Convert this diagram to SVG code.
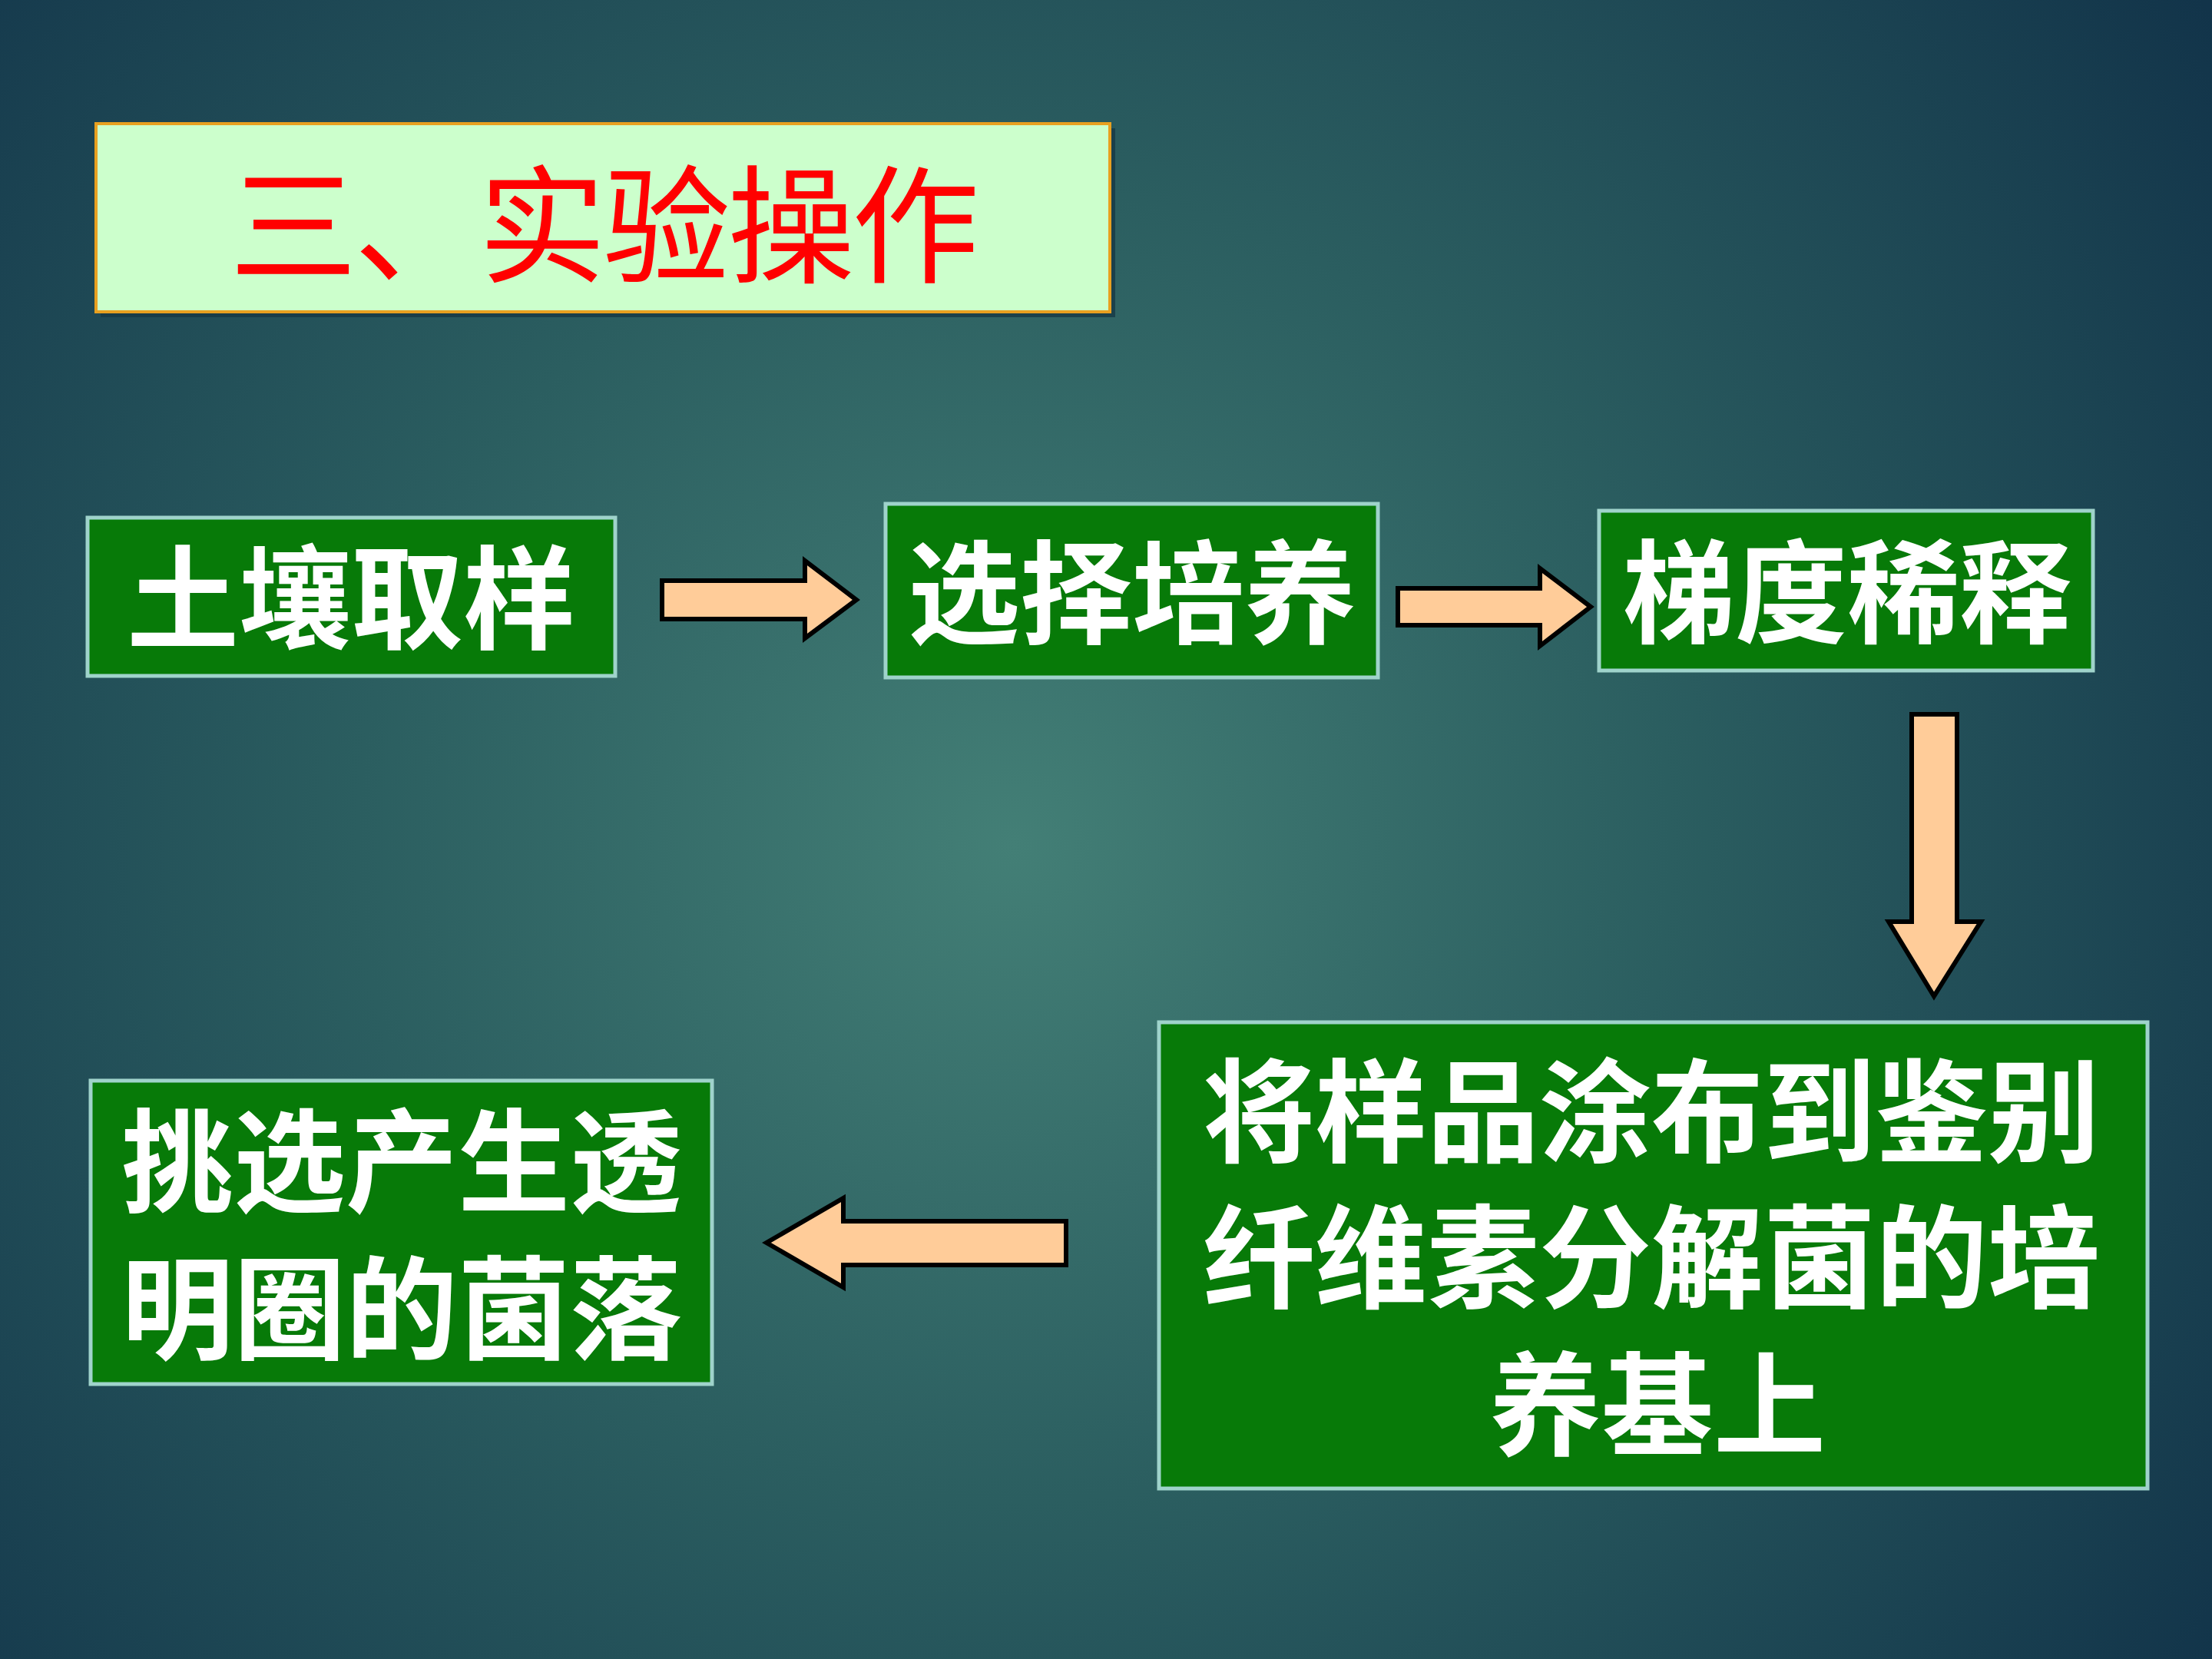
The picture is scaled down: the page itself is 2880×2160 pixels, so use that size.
<svg xmlns="http://www.w3.org/2000/svg" width="2880" height="2160" viewBox="0 0 2880 2160">
<defs>
<radialGradient id="bg" cx="1320" cy="1100" r="1900" gradientUnits="userSpaceOnUse">
<stop offset="0" stop-color="#437F76"/>
<stop offset="0.45" stop-color="#2B5E60"/>
<stop offset="1" stop-color="#12344A"/>
</radialGradient>
<style>
.node rect.box{fill:#077A08;stroke:#9FD3CB;stroke-width:5}
.node text{font-family:"Liberation Sans","Noto Sans CJK SC",sans-serif;font-weight:bold;font-size:146px;fill:#FFFFFF;text-anchor:middle;dominant-baseline:central}
.arrow{fill:#FFCC99;stroke:#000000;stroke-width:6;stroke-linejoin:miter}
</style>
</defs>
<rect width="2880" height="2160" fill="url(#bg)"/>
<g id="title">
<rect x="131" y="167" width="1321" height="246" fill="#163845" opacity="0.8"/>
<rect x="125" y="161" width="1320" height="245" fill="#CCFFCC" stroke="#E8A020" stroke-width="4"/>
<text x="785" y="297" font-family="Liberation Sans, Noto Sans CJK SC, sans-serif" font-size="166" fill="#FF0000" text-anchor="middle" dominant-baseline="central" letter-spacing="-4">三、实验操作</text>
</g>
<g id="n1" class="node">
<rect class="box" x="114" y="674" width="687" height="206"/>
<text x="457" y="782">土壤取样</text>
</g>
<g id="n2" class="node">
<rect class="box" x="1153" y="656" width="641" height="226"/>
<text x="1474" y="775">选择培养</text>
</g>
<g id="n3" class="node">
<rect class="box" x="2082" y="665" width="643" height="208"/>
<text x="2405" y="774">梯度稀释</text>
</g>
<g id="n4" class="node">
<rect class="box" x="1509" y="1331" width="1287" height="607"/>
<text x="2150" y="1450">将样品涂布到鉴别</text>
<text x="2150" y="1640">纤维素分解菌的培</text>
<text x="2158" y="1832">养基上</text>
</g>
<g id="n5" class="node">
<rect class="box" x="118" y="1407" width="809" height="395"/>
<text x="523" y="1515">挑选产生透</text>
<text x="523" y="1707">明圈的菌落</text>
</g>
<g id="connectors">
<polygon class="arrow" points="862,756 1048,756 1048,730 1115,781 1048,831 1048,806 862,806"/>
<polygon class="arrow" points="1820,766 2005,766 2005,740 2071,790 2005,841 2005,814 1820,814"/>
<polygon class="arrow" points="2489,930 2548,930 2548,1200 2579,1200 2518,1297 2459,1200 2489,1200"/>
<polygon class="arrow" points="1388,1590 1098,1590 1098,1560 998,1618 1098,1676 1098,1647 1388,1647"/>
</g>
</svg>
